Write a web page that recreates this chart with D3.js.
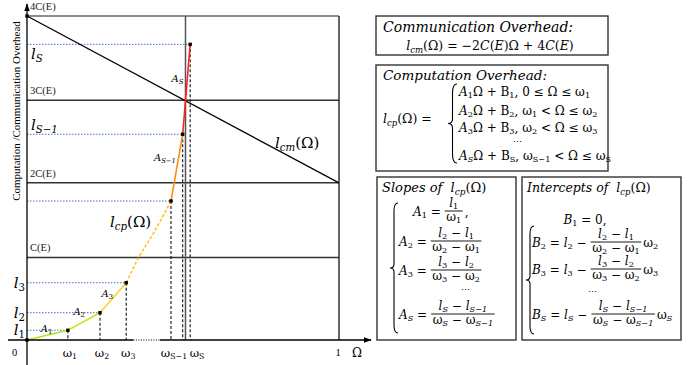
<!DOCTYPE html>
<html>
<head>
<meta charset="utf-8">
<script src="https://cdn.jsdelivr.net/npm/d3@7"></script>
<style>
  body { margin: 0; background: #fff; }
  text { white-space: pre; }
</style>
</head>
<body>
<svg id="chart" width="694" height="365"></svg>
<script>
const svg = d3.select("#chart");

// Levels of the y axis (in units of C(E))
const levelValues = [1.02, 1.94, 2.96, 4];
const levelLabels = ["C(E)", "2C(E)", "3C(E)", "4C(E)"];

// Breakpoints of the piecewise computation overhead
const omegas = [0, 0.131, 0.234, 0.318, 0.4615, 0.499, 0.523];
const loads = [0, 0.12, 0.337, 0.707, 1.716, 2.54, 3.65];
const omegaLabels = ["0", "ω_1", "ω_2", "ω_3", "ω_{S−1}", "ω_S"];
const loadLabels = ["", "$l$_1", "$l$_2", "$l$_3", "", "$l_{S−1}$", "$l_S$"];
const slopeLabels = ["$A$_1", "$A$_2", "$A$_3", "", "$A_{S−1}$", "$A_S$"];
const segColors = ["#b5e61d", "#c9e625", "#ffd21a", "#ffbf1f", "#ff8c1a", "#ff2020"];

// points of the dashed part between ω3 and ωS-1
const gapOmegas = [0.318, 0.359, 0.405, 0.4615];
const gapLoads = [0.707, 1.025, 1.317, 1.716];

// communication overhead line
const lcmOmegas = [0, 1];
const lcmLoads = [4, 1.94];
const crossOmega = 0.508;

const x = d3.scaleLinear().domain([0, 1]).range([27, 339]);
const y = d3.scaleLinear().domain([0, 4]).range([340, 16]);

const MATH = "DejaVu Serif";
const TIMES = "Liberation Serif";

// small text helper: $..$ toggles italic, _x or _{..} is a subscript
function mathText(sel, px, py, src, size, anchor) {
    const t = sel.append("text")
        .attr("x", px).attr("y", py)
        .attr("font-family", MATH)
        .attr("font-size", size)
        .attr("text-anchor", anchor || "start");
    const drop = size * 0.2;
    let italic = false, buf = "", low = false;
    function put(str, sub) {
        if (!str) return;
        const s = t.append("tspan").text(str)
            .attr("font-style", italic ? "italic" : "normal");
        if (sub) {
            s.attr("font-size", size * 0.68);
            if (!low) s.attr("dy", drop);
            low = true;
        } else if (low) {
            s.attr("dy", -drop);
            low = false;
        }
    }
    for (let i = 0; i < src.length; i++) {
        const c = src[i];
        if (c === "$") { put(buf); buf = ""; italic = !italic; }
        else if (c === "_") {
            put(buf); buf = "";
            let sub;
            if (src[i + 1] === "{") {
                const j = src.indexOf("}", i);
                sub = src.slice(i + 2, j);
                i = j;
            } else {
                sub = src[i + 1];
                i++;
            }
            put(sub, true);
        } else buf += c;
    }
    put(buf);
    return t;
}

function frac(g, x0, yBar, num, den, size) {
    const n = mathText(g, 0, yBar - 4, num, size, "middle");
    const d = mathText(g, 0, yBar + 10, den, size, "middle");
    const w = Math.max(n.node().getBBox().width, d.node().getBBox().width) + 3;
    n.attr("x", x0 + w / 2);
    d.attr("x", x0 + w / 2);
    g.append("line")
        .attr("x1", x0).attr("x2", x0 + w)
        .attr("y1", yBar).attr("y2", yBar)
        .attr("stroke", "#000").attr("stroke-width", 0.9);
    return x0 + w;
}

function fracRow(g, x0, yBar, pre, num, den, post, size) {
    const p = mathText(g, x0, yBar + 4.5, pre, size);
    let xe = x0 + p.node().getBBox().width + 3;
    xe = frac(g, xe, yBar, num, den, size);
    if (post) mathText(g, xe + 2, yBar + 4.5, post, size);
}

function brace(g, bx, y1, y2, w) {
    const m = (y1 + y2) / 2;
    const h = w / 2;
    const p = `M${bx + w},${y1} Q${bx + h},${y1} ${bx + h},${y1 + w} L${bx + h},${m - h}
        Q${bx + h},${m} ${bx},${m} Q${bx + h},${m} ${bx + h},${m + h}
        L${bx + h},${y2 - w} Q${bx + h},${y2} ${bx + w},${y2}`;
    g.append("path").attr("d", p)
        .attr("fill", "none").attr("stroke", "#000").attr("stroke-width", 1.1);
}

// arrow marker
svg.append("defs").append("marker")
    .attr("id", "arrow")
    .attr("viewBox", "0 0 10 10")
    .attr("refX", 9).attr("refY", 5)
    .attr("markerWidth", 6).attr("markerHeight", 6)
    .attr("orient", "auto")
    .append("path").attr("d", "M0,1.5 L10,5 L0,8.5 z").attr("fill", "#000");

const plot = svg.append("g");

// horizontal level lines
plot.selectAll(".level")
    .data(levelValues)
    .enter()
    .append("line")
    .attr("x1", x(0)).attr("x2", x(1))
    .attr("y1", (d) => y(d)).attr("y2", (d) => y(d))
    .attr("stroke", (d) => (d === 4 ? "#666" : "#333"))
    .attr("stroke-width", 1.5);

plot.selectAll(".level-label")
    .data(levelValues)
    .enter()
    .append("text")
    .attr("x", x(0) + 3)
    .attr("y", (d) => y(d) - 6)
    .attr("font-family", TIMES)
    .attr("font-size", 10.5)
    .attr("fill", "#222")
    .text((d, i) => levelLabels[i]);

// right border at Ω = 1 and the crossing line
plot.append("line")
    .attr("x1", x(1)).attr("x2", x(1)).attr("y1", y(4)).attr("y2", y(0))
    .attr("stroke", "#111").attr("stroke-width", 1.3);
plot.append("line")
    .attr("x1", x(crossOmega)).attr("x2", x(crossOmega)).attr("y1", y(4)).attr("y2", y(0))
    .attr("stroke", "#555").attr("stroke-width", 1.5);

// blue dotted guides and black dashed drops
const pts = omegas.map((w, i) => ({ w: w, l: loads[i], i: i })).slice(1);
plot.selectAll(".guide")
    .data(pts)
    .enter()
    .append("line")
    .attr("x1", x(0)).attr("x2", (d) => x(d.w))
    .attr("y1", (d) => y(d.l)).attr("y2", (d) => y(d.l))
    .attr("stroke", "#4472c4").attr("stroke-width", 1)
    .attr("stroke-dasharray", "1.5,1.5");
plot.selectAll(".drop")
    .data(pts)
    .enter()
    .append("line")
    .attr("x1", (d) => x(d.w)).attr("x2", (d) => x(d.w))
    .attr("y1", (d) => y(d.l)).attr("y2", y(0))
    .attr("stroke", "#111").attr("stroke-width", 1.1)
    .attr("stroke-dasharray", "3,2");

// communication overhead
const lcmLine = d3.line().x((d) => x(d[0])).y((d) => y(d[1]));
plot.append("path")
    .attr("d", lcmLine(lcmOmegas.map((w, i) => [w, lcmLoads[i]])))
    .attr("fill", "none").attr("stroke", "#000").attr("stroke-width", 1.3);

// computation overhead segments
const segs = [];
for (let i = 0; i < omegas.length - 1; i++) {
    if (i === 3) {
        segs.push({ p: gapOmegas.map((w, k) => [w, gapLoads[k]]), c: segColors[i], dash: true });
    } else {
        segs.push({ p: [[omegas[i], loads[i]], [omegas[i + 1], loads[i + 1]]], c: segColors[i], dash: false });
    }
}
const curve = d3.line().x((d) => x(d[0])).y((d) => y(d[1])).curve(d3.curveMonotoneX);
plot.selectAll(".seg")
    .data(segs)
    .enter()
    .append("path")
    .attr("d", (d) => curve(d.p))
    .attr("fill", "none")
    .attr("stroke", (d) => d.c)
    .attr("stroke-width", 1.6)
    .attr("stroke-dasharray", (d) => (d.dash ? "3,2" : null));

// point markers
plot.selectAll(".pt")
    .data(omegas.map((w, i) => [w, loads[i]]).concat([[0, 4]]))
    .enter()
    .append("rect")
    .attr("x", (d) => x(d[0]) - 1.7).attr("y", (d) => y(d[1]) - 1.7)
    .attr("width", 3.4).attr("height", 3.4)
    .attr("fill", "#000");

// axes
const axes = svg.append("g");
axes.append("line")
    .attr("x1", x(0)).attr("x2", x(0)).attr("y1", 365).attr("y2", 4)
    .attr("stroke", "#000").attr("stroke-width", 1.3)
    .attr("marker-end", "url(#arrow)");
axes.append("line")
    .attr("x1", 8).attr("x2", x(0.341)).attr("y1", y(0)).attr("y2", y(0))
    .attr("stroke", "#000").attr("stroke-width", 1.3);
axes.append("line")
    .attr("x1", x(0.341)).attr("x2", x(0.426)).attr("y1", y(0)).attr("y2", y(0))
    .attr("stroke", "#000").attr("stroke-width", 1.1).attr("stroke-dasharray", "1,1.5");
axes.append("line")
    .attr("x1", x(0.426)).attr("x2", 371).attr("y1", y(0)).attr("y2", y(0))
    .attr("stroke", "#000").attr("stroke-width", 1.3)
    .attr("marker-end", "url(#arrow)");

// x labels
omegaLabels.forEach((lab, i) => {
    if (i === 0) {
        axes.append("text").attr("x", 12).attr("y", 356)
            .attr("font-family", TIMES).attr("font-size", 10.5).text("0");
        return;
    }
    const last = i === omegaLabels.length - 1;
    const dx = last ? 7 : (i === 4 ? 3 : 2);
    mathText(axes, x(omegas[i]) + dx, 357, lab, 11.5, last ? "start" : "middle");
});
axes.append("text").attr("x", x(1) - 1).attr("y", 356)
    .attr("font-family", TIMES).attr("font-size", 10.5)
    .attr("text-anchor", "middle").text("1");
mathText(axes, 352, 357, "Ω", 12);

// y labels of the breakpoints
loadLabels.forEach((lab, i) => {
    if (!lab) return;
    if (i <= 3) {
        mathText(axes, 25, y(loads[i]) + 5, lab, 15, "end");
    } else {
        const below = i === loadLabels.length - 1;
        mathText(axes, x(0) + 4, y(loads[i]) + (below ? 15 : -4), lab, 15);
    }
});

// slope labels
const slopeOffsets = [[5, -3], [1, -6], [0, -1], [0, 0], [-1, -7], [-3, -7]];
slopeLabels.forEach((lab, i) => {
    if (!lab) return;
    const mx = (x(omegas[i]) + x(omegas[i + 1])) / 2;
    const my = (y(loads[i]) + y(loads[i + 1])) / 2;
    mathText(axes, mx + slopeOffsets[i][0], my + slopeOffsets[i][1], lab, 10, "end");
});

mathText(axes, 110, 227, "$l_{cp}$(Ω)", 15);
mathText(axes, 275, 148, "$l_{cm}$(Ω)", 15);

axes.append("text")
    .attr("transform", "translate(20,111) rotate(-90)")
    .attr("text-anchor", "middle")
    .attr("font-family", TIMES)
    .attr("font-size", 11)
    .text("Computation /Communication Overhead");

// right side boxes
const boxes = svg.append("g");
const boxRects = [
    [376, 16, 232, 39],
    [376, 65, 232, 106],
    [377, 177, 139, 163],
    [522, 177, 159, 163]
];
boxes.selectAll("rect")
    .data(boxRects)
    .enter()
    .append("rect")
    .attr("x", (d) => d[0]).attr("y", (d) => d[1])
    .attr("width", (d) => d[2]).attr("height", (d) => d[3])
    .attr("fill", "none").attr("stroke", "#333").attr("stroke-width", 1.4);

const FS = 12.5;
mathText(boxes, 383, 32, "$Communication Overhead:$", 14);
mathText(boxes, 490, 50, "$l_{cm}$(Ω) = −2$C$($E$)Ω + 4$C$($E$)", FS, "middle");

mathText(boxes, 383, 80, "$Computation Overhead:$", 13.5);
mathText(boxes, 383, 123, "$l_{cp}$(Ω) =", FS);
brace(boxes, 448, 84, 163, 9);
mathText(boxes, 459, 96, "$A$_1Ω + B_1, 0 ≤ Ω ≤ ω_1", 12);
mathText(boxes, 459, 115, "$A$_2Ω + B_2, ω_1 < Ω ≤ ω_2", 12);
mathText(boxes, 459, 132, "$A$_3Ω + B_3, ω_2 < Ω ≤ ω_3", 12);
mathText(boxes, 517, 145, "⋯", 9, "middle");
mathText(boxes, 459, 160, "$A_S$Ω + B_S, ω_{S−1} < Ω ≤ ω_S", 12);

// slopes
const FB = 12;
mathText(boxes, 382, 192, "$Slopes of  l_{cp}$(Ω)", 13);
brace(boxes, 390, 203, 333, 8);
fracRow(boxes, 413, 211, "$A$_1 =", "$l$_1", "ω_1", ",", FB);
fracRow(boxes, 399, 241, "$A$_2 =", "$l$_2 − $l$_1", "ω_2 − ω_1", "", FB);
fracRow(boxes, 399, 270, "$A$_3 =", "$l$_3 − $l$_2", "ω_3 − ω_2", "", FB);
mathText(boxes, 465, 293, "⋯", 9, "middle");
fracRow(boxes, 399, 314, "$A_S$ =", "$l_S$ − $l_{S−1}$", "ω$_S$ − ω$_{S−1}$", "", FB);

// intercepts
mathText(boxes, 527, 192, "$Intercepts of  l_{cp}$(Ω)", 12.5);
brace(boxes, 526, 226, 334, 8);
mathText(boxes, 585, 224, "$B$_1 = 0,", FB, "middle");
fracRow(boxes, 532, 242, "$B$_2 = $l$_2 −", "$l$_2 − $l$_1", "ω_2 − ω_1", "ω_2", FB);
fracRow(boxes, 532, 269, "$B$_3 = $l$_3 −", "$l$_3 − $l$_2", "ω_3 − ω_2", "ω_3", FB);
mathText(boxes, 592, 295, "⋯", 9, "middle");
fracRow(boxes, 532, 314, "$B_S$ = $l_S$ −", "$l_S$ − $l_{S−1}$", "ω$_S$ − ω$_{S−1}$", "ω$_S$", FB);
</script>
</body>
</html>
